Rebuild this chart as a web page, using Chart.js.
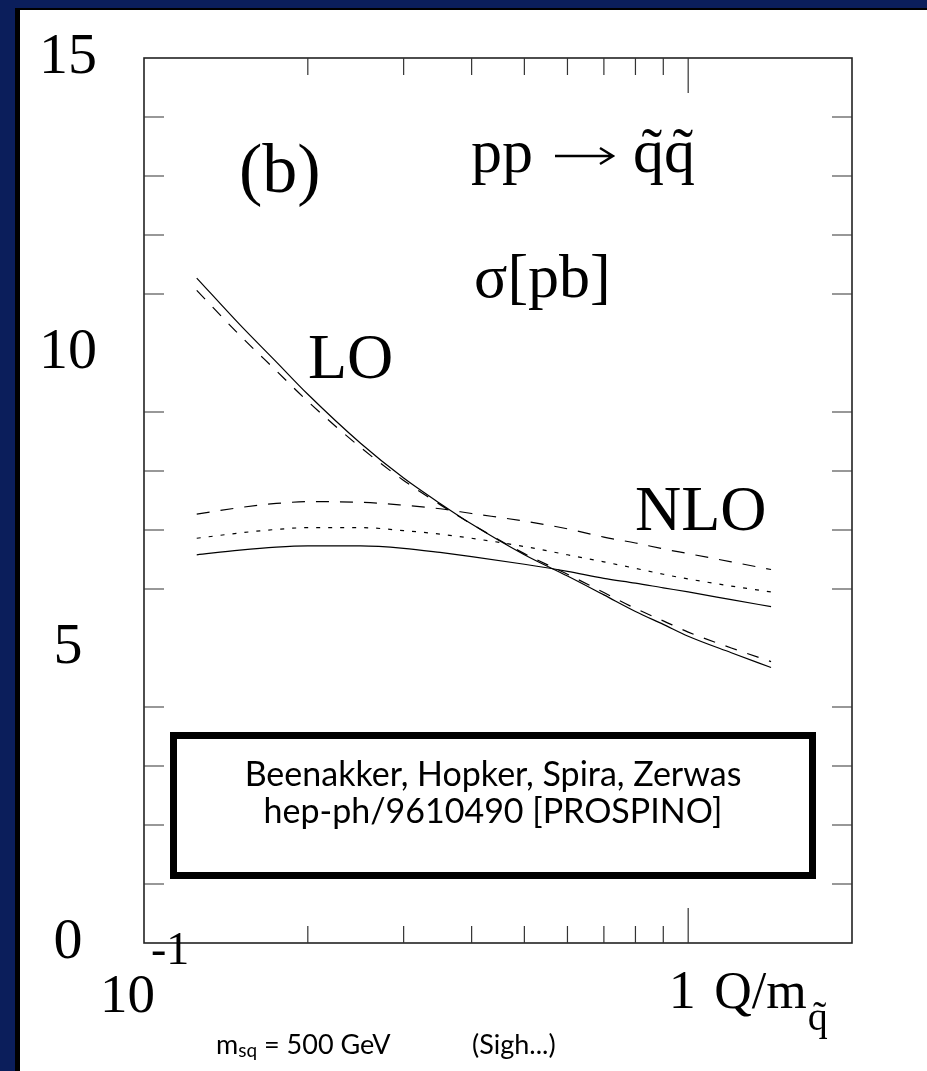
<!DOCTYPE html>
<html lang="en">
<head>
  <meta charset="UTF-8" />
  <title>Squark pair cross section vs scale</title>
  <script src="https://cdn.jsdelivr.net/npm/chart.js"></script>
  <style>
    html, body { margin: 0; padding: 0; }
    body { background: #0b1e5b; width: 927px; height: 1071px; position: relative; overflow: hidden; }
    .sheet { position: absolute; left: 15px; top: 8px; width: 912px; height: 1063px; background: #000; }
    .paper { position: absolute; left: 20px; top: 10px; width: 907px; height: 1061px; background: #fff; }
  </style>
</head>
<body>
  <div class="sheet"></div>
  <div class="paper"><canvas id="xsec" width="907" height="1061"></canvas></div>

  <script>
    // scale Q / m_squark
    const qValues  = [0.125, 0.15, 0.175, 0.2, 0.25, 0.3, 0.35, 0.4, 0.5, 0.6, 0.7, 0.8, 0.9, 1.0, 1.2, 1.42];
    // sigma [pb]
    const loSolid  = [11.27, 10.48, 9.85, 9.30, 8.47, 7.88, 7.45, 7.10, 6.58, 6.22, 5.90, 5.62, 5.40, 5.20, 4.92, 4.67];
    const loDashed = [11.06, 10.30, 9.70, 9.18, 8.40, 7.84, 7.43, 7.10, 6.60, 6.25, 5.94, 5.67, 5.46, 5.27, 5.00, 4.77];
    const nloDashed = [7.27, 7.38, 7.45, 7.48, 7.47, 7.42, 7.36, 7.28, 7.15, 7.02, 6.88, 6.78, 6.68, 6.60, 6.46, 6.33];
    const nloDotted = [6.86, 6.95, 7.01, 7.04, 7.04, 6.99, 6.93, 6.86, 6.72, 6.58, 6.46, 6.35, 6.25, 6.17, 6.05, 5.95];
    const nloSolid  = [6.58, 6.66, 6.71, 6.73, 6.73, 6.69, 6.62, 6.55, 6.42, 6.30, 6.18, 6.10, 6.02, 5.95, 5.82, 5.70];

    // axis ticks
    const yLabelTicks = [0, 5, 10, 15];
    const yMinorTicks = [1, 2, 3, 4, 6, 7, 8, 9, 11, 12, 13, 14];
    const yMajorTicks = [5, 10];
    const xMinorTicks = [0.2, 0.3, 0.4, 0.5, 0.6, 0.7, 0.8, 0.9];
    const xMajorTicks = [1];

    const SERIF = "'Liberation Serif', 'DejaVu Serif', serif";
    const SANS = "Lato, 'Open Sans', sans-serif";

    function pts(ys) { return qValues.map((q, i) => ({ x: q, y: ys[i] })); }
    function line(ys, dash) {
      return {
        data: pts(ys), borderColor: '#000', borderWidth: 1.2, borderDash: dash,
        pointRadius: 0, fill: false, cubicInterpolationMode: 'monotone'
      };
    }

    const decor = {
      id: 'decor',
      afterDraw(chart) {
        const ctx = chart.ctx;
        const ca = chart.chartArea;
        const xs = chart.scales.x, ys = chart.scales.y;
        ctx.save();

        // frame
        ctx.strokeStyle = '#222';
        ctx.lineWidth = 1.6;
        ctx.strokeRect(ca.left, ca.top, ca.right - ca.left, ca.bottom - ca.top);

        // inward ticks
        ctx.strokeStyle = '#333';
        ctx.lineWidth = 1.2;
        ctx.beginPath();
        yMinorTicks.forEach(v => {
          const y = ys.getPixelForValue(v);
          const len = yMajorTicks.includes(v) ? 38 : 20;
          ctx.moveTo(ca.left, y); ctx.lineTo(ca.left + len, y);
          ctx.moveTo(ca.right, y); ctx.lineTo(ca.right - len, y);
        });
        xMinorTicks.concat(xMajorTicks).forEach(v => {
          const x = xs.getPixelForValue(v);
          const len = xMajorTicks.includes(v) ? 35 : 17;
          ctx.moveTo(x, ca.top); ctx.lineTo(x, ca.top + len);
          ctx.moveTo(x, ca.bottom); ctx.lineTo(x, ca.bottom - len);
        });
        ctx.stroke();

        // labels inside the plot
        ctx.fillStyle = '#000';
        ctx.textAlign = 'left';
        ctx.textBaseline = 'alphabetic';
        ctx.font = '70px ' + SERIF;
        ctx.fillText('(b)', ca.left + 95, ca.top + 134);
        ctx.font = '62px ' + SERIF;
        ctx.fillText('pp', ca.left + 327, ca.top + 114);
        ctx.fillText('q\u0303q\u0303', ca.left + 489, ca.top + 114);
        ctx.fillText('\u03c3[pb]', ca.left + 330, ca.top + 239);
        // arrow of the reaction
        const ay = ca.top + 98;
        ctx.lineWidth = 2.4;
        ctx.strokeStyle = '#000';
        ctx.beginPath();
        ctx.moveTo(ca.left + 411, ay); ctx.lineTo(ca.left + 468, ay);
        ctx.moveTo(ca.left + 456, ay - 8); ctx.lineTo(ca.left + 469, ay); ctx.lineTo(ca.left + 456, ay + 8);
        ctx.stroke();
        ctx.font = '64px ' + SERIF;
        ctx.fillText('LO', ca.left + 164, ca.top + 320);
        ctx.fillText('NLO', ca.left + 491, ca.top + 472);

        // reference box
        ctx.lineWidth = 7;
        ctx.strokeRect(ca.left + 29.5, ca.top + 677.5, (ca.right - 39.5) - (ca.left + 29.5), 140);
        const cx = (ca.left + 29.5 + ca.right - 39.5) / 2;
        ctx.textAlign = 'center';
        ctx.font = '34px ' + SANS;
        ctx.fillText('Beenakker, Hopker, Spira, Zerwas', cx, ca.top + 728);
        ctx.fillText('hep-ph/9610490 [PROSPINO]', cx, ca.top + 765);

        // x axis labels
        const x01 = xs.getPixelForValue(0.1);
        const x1 = xs.getPixelForValue(1);
        ctx.textAlign = 'left';
        ctx.font = '55px ' + SERIF;
        ctx.fillText('10', x01 - 44, ca.bottom + 69);
        ctx.font = '46px ' + SERIF;
        ctx.fillText('-1', x01 + 7, ca.bottom + 21);
        ctx.font = '54px ' + SERIF;
        ctx.textAlign = 'center';
        ctx.fillText('1', x1 - 6, ca.bottom + 65);
        ctx.textAlign = 'left';
        ctx.font = '52px ' + SERIF;
        ctx.fillText('Q/m', x1 + 26, ca.bottom + 65);
        const qw = ctx.measureText('Q/m').width;
        ctx.font = '40px ' + SERIF;
        ctx.fillText('q\u0303', x1 + 26 + qw + 1, ca.bottom + 87);

        // footer note
        ctx.font = '27px ' + SANS;
        const fx = x01 + 72, fy = ca.bottom + 111;
        ctx.fillText('m', fx, fy);
        const mw = ctx.measureText('m').width;
        ctx.font = '19px ' + SANS;
        ctx.fillText('sq', fx + mw, fy + 3);
        const sw = ctx.measureText('sq').width;
        ctx.font = '27px ' + SANS;
        ctx.fillText(' = 500 GeV', fx + mw + sw, fy);
        ctx.fillText('(Sigh...)', x01 + 328, fy);

        ctx.restore();
      }
    };

    new Chart(document.getElementById('xsec'), {
      type: 'line',
      data: {
        datasets: [
          line(loSolid, []),
          line(loDashed, [12, 11]),
          line(nloDashed, [13, 11]),
          line(nloDotted, [4, 8]),
          line(nloSolid, [])
        ]
      },
      options: {
        responsive: false,
        animation: false,
        layout: { padding: { left: 0, top: 48, right: 75, bottom: 128 } },
        plugins: { legend: { display: false }, tooltip: { enabled: false } },
        scales: {
          x: { type: 'logarithmic', min: 0.1, max: 2, display: false },
          y: {
            type: 'linear', min: 0, max: 15,
            afterFit(scale) {
              scale.width = 124;
              // labels may overhang the frame, as in the original
              scale.paddingTop = 0;
              scale.paddingBottom = 0;
            },
            afterBuildTicks(scale) { scale.ticks = yLabelTicks.map(v => ({ value: v })); },
            grid: { display: false, drawTicks: false },
            border: { display: false },
            ticks: {
              autoSkip: false, crossAlign: 'center', padding: 47,
              color: '#000', font: { family: SERIF, size: 58 },
              callback: v => String(v)
            }
          }
        }
      },
      plugins: [decor]
    });
  </script>
</body>
</html>
